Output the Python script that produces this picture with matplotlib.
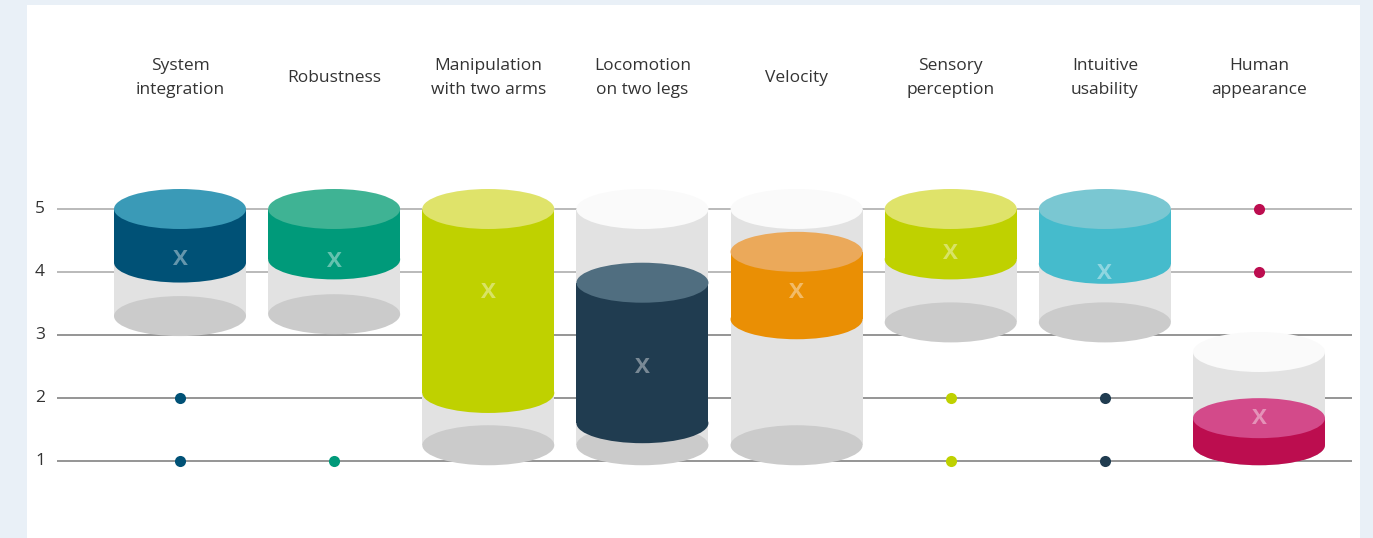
import matplotlib
matplotlib.use("Agg")
import matplotlib.pyplot as plt
from matplotlib.patches import Rectangle, Ellipse

plt.rcParams['font.family'] = ['Open Sans', 'DejaVu Sans']

# ---- data ----
categories = ["System\nintegration", "Robustness", "Manipulation\nwith two arms",
              "Locomotion\non two legs", "Velocity", "Sensory\nperception",
              "Intuitive\nusability", "Human\nappearance"]
range_low = [3.30, 3.33, 1.25, 1.25, 1.25, 3.20, 3.20, 1.25]
range_high = [5.0, 5.0, 5.0, 5.0, 5.0, 5.0, 5.0, 2.73]
box_low = [4.15, 4.20, 2.08, 1.60, 3.25, 4.20, 4.13, 1.25]
box_high = [5.0, 5.0, 5.0, 3.83, 4.32, 5.0, 5.0, 1.68]
means = [4.20, 4.17, 3.67, 2.48, 3.67, 4.29, 3.98, 1.68]
outliers = [[2, 1], [1], [], [], [], [2, 1], [2, 1], [5, 4]]
yticks = [1, 2, 3, 4, 5]

side_colors = ["#005176", "#009a7a", "#bfd100", "#203c50", "#ea8f04",
               "#bfd100", "#45bbcc", "#bc0d4f"]
top_colors = ["#3a9ab7", "#3fb394", "#dfe36a", "#506e80", "#eba95a",
              "#dfe36a", "#7ac7d2", "#d34a8a"]
outlier_colors = ["#005176", "#009a7a", "#bfd100", "#203c50", "#ea8f04",
                  "#bfd100", "#203c50", "#bc0d4f"]

# ---- figure ----
W, H = 1373, 538
fig = plt.figure(figsize=(W / 100, H / 100), dpi=100)
fig.patch.set_facecolor("#e9f0f7")

ax = fig.add_axes([0, 0, 1, 1])
ax.set_facecolor("none")
ax.axis("off")
ax.add_patch(Rectangle((27 / W, 0), (1360 - 27) / W, (H - 5) / H,
                       transform=fig.transFigure, facecolor="white",
                       edgecolor="none", zorder=0))

px_unit_x = 154.14
px_unit_y = 63.0
x0_px, y1_px = 180, 461
ax.set_xlim(-x0_px / px_unit_x, (W - x0_px) / px_unit_x)
ax.set_ylim(1 - (H - y1_px) / px_unit_y, 1 + y1_px / px_unit_y)

cw = 132 / px_unit_x      # cylinder width
eh = 40 / px_unit_y       # ellipse height

# grid lines
gx0 = (57 - x0_px) / px_unit_x
gx1 = (1352 - x0_px) / px_unit_x
for v in yticks:
    col = "#b4b4b4" if v >= 4 else "#8c8c8c"
    ax.hlines(v, gx0, gx1, color=col, lw=1.3, zorder=1)
    ax.text((40 - x0_px) / px_unit_x, v, str(v), ha="center", va="center",
            fontsize=12.5, color="#333333", zorder=5)

for i, cat in enumerate(categories):
    xl = i - cw / 2
    # grey range cylinder
    ax.add_patch(Rectangle((xl, range_low[i]), cw, range_high[i] - range_low[i],
                           facecolor="#e2e2e2", edgecolor="none", zorder=2))
    ax.add_patch(Ellipse((i, range_low[i]), cw, eh, facecolor="#cbcbcb",
                         edgecolor="none", zorder=2.1))
    ax.add_patch(Ellipse((i, range_high[i]), cw, eh, facecolor="#fafafa",
                         edgecolor="none", zorder=2.2))
    # coloured box cylinder
    ax.add_patch(Ellipse((i, box_low[i]), cw, eh, facecolor=side_colors[i],
                         edgecolor="none", zorder=3))
    ax.add_patch(Rectangle((xl, box_low[i]), cw, box_high[i] - box_low[i],
                           facecolor=side_colors[i], edgecolor="none", zorder=3.1))
    ax.add_patch(Ellipse((i, box_high[i]), cw, eh, facecolor=top_colors[i],
                         edgecolor="none", zorder=3.2))
    # mean marker
    ax.text(i, means[i], "X", ha="center", va="center", fontsize=16,
            fontweight="bold", color="white", alpha=0.4, zorder=4)
    # outliers
    for o in outliers[i]:
        ax.plot(i, o, "o", ms=8, color=outlier_colors[i], mec="none", zorder=4)
    # category label
    ax.text(i, 1 + (y1_px - 78) / px_unit_y, cat, ha="center", va="center",
            fontsize=12.5, color="#333333", linespacing=1.6, zorder=5)

fig.savefig("out.png", dpi=100)
